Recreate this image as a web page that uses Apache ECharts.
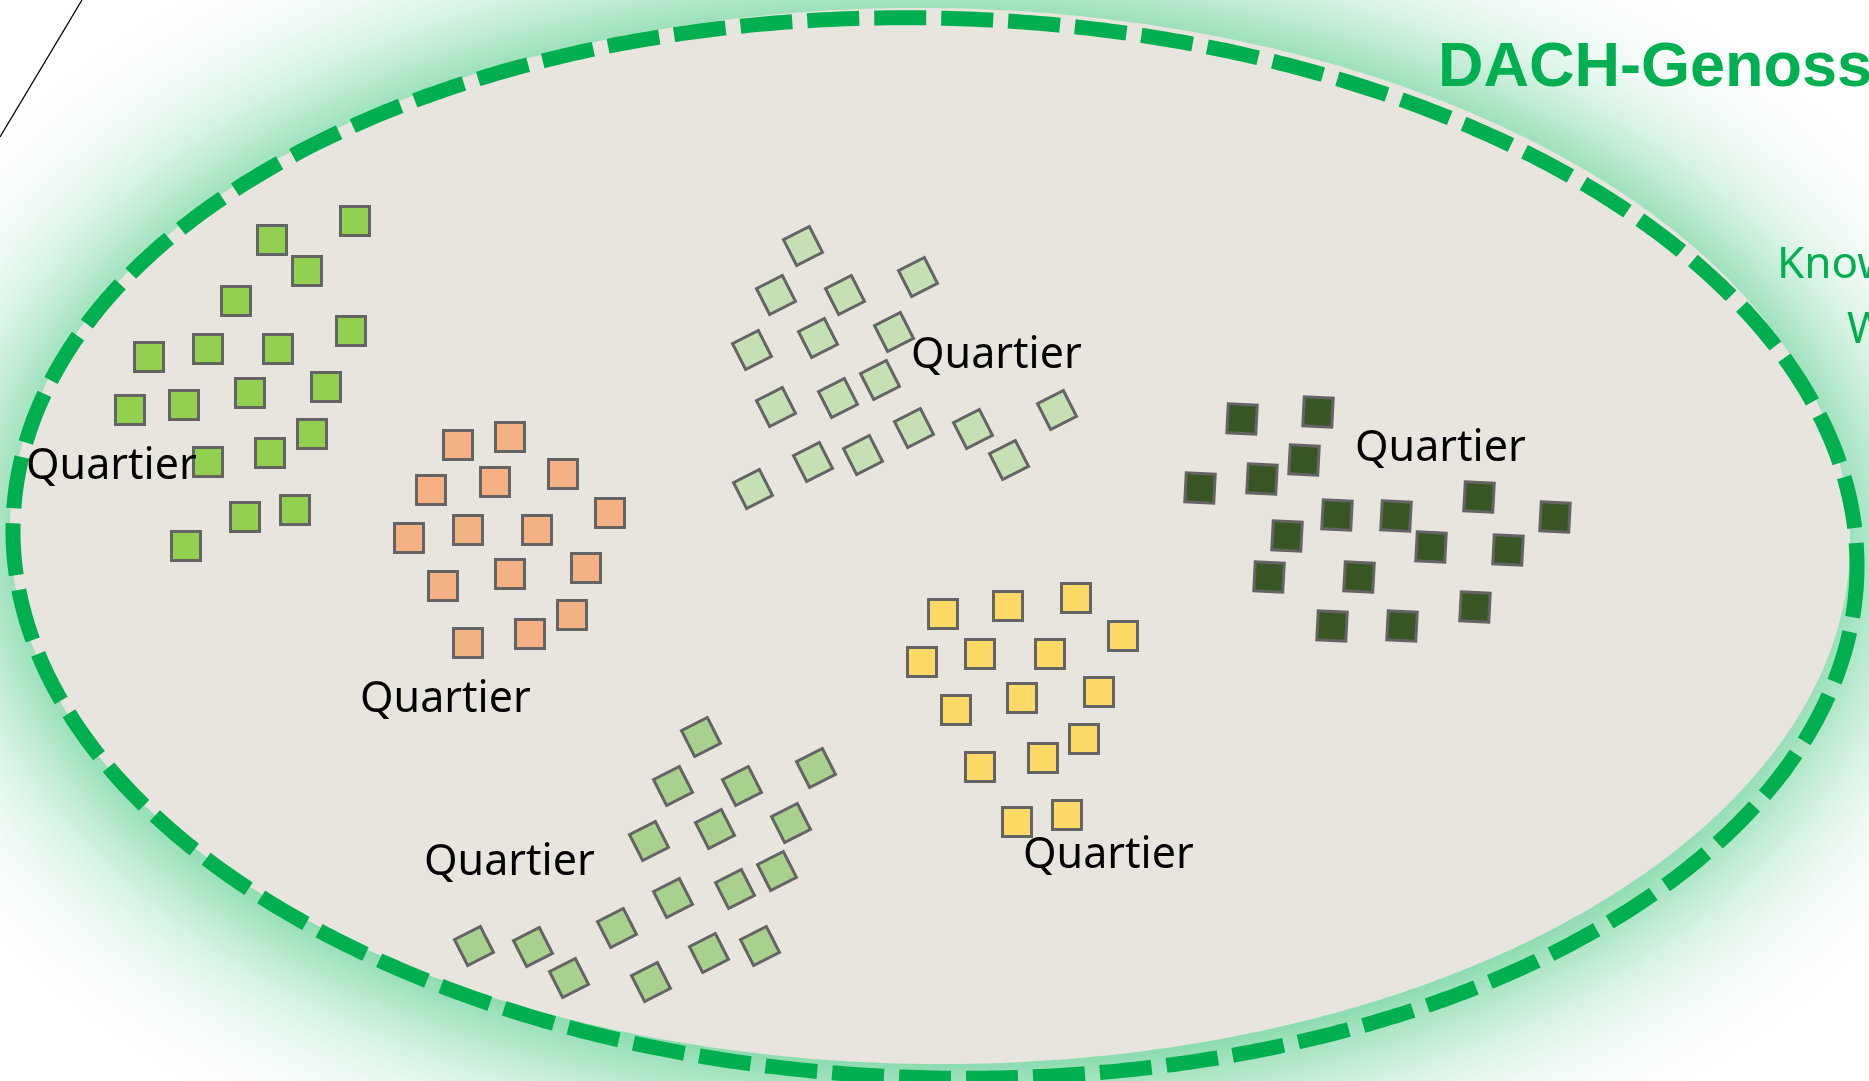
<!DOCTYPE html>
<html>
<head>
<meta charset="utf-8">
<script src="https://cdn.jsdelivr.net/npm/echarts@6/dist/echarts.min.js"></script>
<style>
  html, body { margin: 0; padding: 0; background: #ffffff; }
  #chart { width: 1869px; height: 1081px; }
</style>
</head>
<body>
<div id="chart"></div>
<script>
// ---- data (picture coordinates) ----
const limeSquares = [[355,221],[272,240],[307,271],[236,301],[351,331],[149,357],[208,349],[278,349],[130,410],[184,405],[250,393],[326,387],[312,434],[208,462],[270,453],[295,510],[245,517],[186,546]];
const orangeSquares = [[458,445],[510,437],[431,490],[495,482],[563,474],[610,513],[409,538],[468,530],[537,530],[443,586],[510,574],[586,568],[572,615],[530,634],[468,643]];
const paleGreenSquares = [[803,246],[776,295],[845,295],[918,277],[752,350],[818,338],[894,332],[880,380],[776,407],[838,398],[1057,410],[914,428],[973,429],[813,462],[863,455],[1009,460],[753,489]];
const darkGreenSquares = [[1242,419],[1318,412],[1304,460],[1262,479],[1200,488],[1479,497],[1555,517],[1337,515],[1396,516],[1287,536],[1431,547],[1508,550],[1269,577],[1359,577],[1475,607],[1332,626],[1402,626]];
const yellowSquares = [[943,614],[1008,606],[1076,598],[1123,636],[922,662],[980,654],[1050,654],[1099,692],[956,710],[1022,698],[1084,739],[1043,758],[980,767],[1067,815],[1017,822]];
const midGreenSquares = [[701,737],[673,786],[742,786],[816,768],[649,841],[715,829],[791,823],[777,871],[735,889],[673,898],[617,928],[474,946],[533,947],[569,978],[651,982],[709,953],[760,946]];
const quartierLabels = [[26,467,'Quartier'],[360,700,'Quartier'],[911,356,'Quartier'],[1355,449,'Quartier'],[424,863,'Quartier'],[1023,856,'Quartier']];
const cornerLine = [[0,137],[82,0]];
const titleText = 'DACH-Genossenschaft';
const subLine1 = 'Know-how';
const subLine2 = 'Wissen';
// region shapes: centre, radii, shear
const beigeRegion = { cx: 930, cy: 536, rx: 920, ry: 528, k: 0.007 };
const dashedRegion = { cx: 935, cy: 548, rx: 922, ry: 530, k: 0.019 };

const chart = echarts.init(document.getElementById('chart'), null, { renderer: 'canvas' });

function ellipsePoints(api, e) {
  const pts = [];
  for (let i = 0; i < 720; i++) {
    const t = i * Math.PI / 360;
    const x = e.cx + e.rx * Math.cos(t);
    const y = e.cy + e.ry * Math.sin(t) + e.k * e.rx * Math.cos(t);
    pts.push(api.coord([x, y]));
  }
  return pts;
}

function squareSeries(name, data, color, rot) {
  return {
    type: 'scatter', name: name, data: data, symbol: 'rect', symbolSize: 29,
    symbolRotate: rot, silent: true, z: 5,
    itemStyle: { color: color, borderColor: '#646464', borderWidth: 3, opacity: 1 },
    emphasis: { disabled: true }
  };
}

const option = {
  backgroundColor: '#ffffff',
  animation: false,
  grid: { left: 0, right: 0, top: 0, bottom: 0 },
  xAxis: { type: 'value', min: 0, max: 1869, show: false },
  yAxis: { type: 'value', min: 0, max: 1081, inverse: true, show: false },
  graphic: [
    { type: 'text', x: 1438, y: 69, z: 100,
      style: { text: titleText, font: 'bold 63px "Liberation Sans"', fill: '#00B050', verticalAlign: 'middle', align: 'left' } },
    { type: 'text', x: 1777, y: 265, z: 100,
      style: { text: subLine1, font: '44px "Noto Sans"', fill: '#00B050', verticalAlign: 'middle', align: 'left' } },
    { type: 'text', x: 1847, y: 330, z: 100,
      style: { text: subLine2, font: '44px "Noto Sans"', fill: '#00B050', verticalAlign: 'middle', align: 'left' } }
  ],
  series: [
    {
      type: 'custom', silent: true, z: 1, data: [[0, 0]],
      renderItem: function (params, api) {
        return {
          type: 'polygon',
          shape: { points: ellipsePoints(api, beigeRegion) },
          style: { fill: '#E8E5DF', stroke: 'none', shadowBlur: 170, shadowColor: 'rgba(0,176,80,0.85)', shadowOffsetY: 8 }
        };
      }
    },
    {
      type: 'custom', silent: true, z: 2, data: [[0, 0]],
      renderItem: function (params, api) {
        return {
          type: 'polygon',
          shape: { points: ellipsePoints(api, dashedRegion) },
          style: { fill: 'none', stroke: '#00B050', lineWidth: 15, lineDash: [52, 15] }
        };
      }
    },
    {
      type: 'line', data: cornerLine, symbol: 'none', silent: true, z: 3,
      lineStyle: { color: '#000000', width: 1.3 }
    },
    squareSeries('lime', limeSquares, '#92D050', 0),
    squareSeries('orange', orangeSquares, '#F4B183', 0),
    squareSeries('pale', paleGreenSquares, '#C5E0B4', 27),
    squareSeries('dark', darkGreenSquares, '#375623', -3),
    squareSeries('yellow', yellowSquares, '#FFD966', 0),
    squareSeries('mid', midGreenSquares, '#A9D18E', 27),
    {
      type: 'custom', silent: true, z: 10, data: quartierLabels,
      renderItem: function (params, api) {
        const p = api.coord([api.value(0), api.value(1)]);
        return {
          type: 'text', x: p[0], y: p[1],
          style: { text: quartierLabels[params.dataIndex][2], font: '43px "Noto Sans"', fill: '#000000', align: 'left', verticalAlign: 'middle' }
        };
      }
    }
  ]
};
chart.setOption(option);
</script>
</body>
</html>
